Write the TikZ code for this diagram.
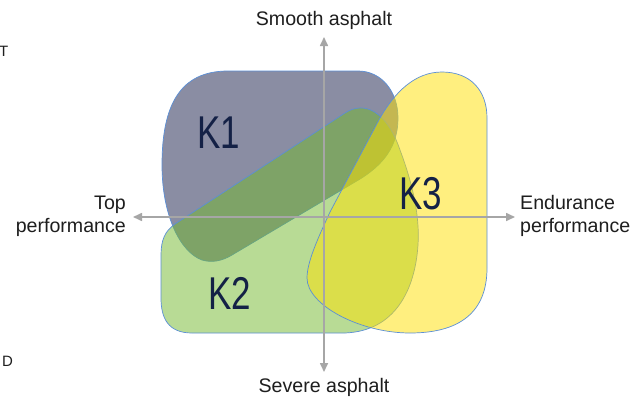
\documentclass[tikz,border=0pt]{standalone}
\usepackage{fontspec}
\setmainfont{Liberation Sans}
\newfontfamily\kfont[FakeStretch=0.76]{Liberation Sans}
\newfontfamily\axfont{Liberation Sans}
\usetikzlibrary{arrows.meta}
\definecolor{kgray}{RGB}{138,141,163}
\definecolor{kgreen}{RGB}{115,185,45}
\definecolor{kyellow}{RGB}{255,225,0}
\definecolor{kline}{RGB}{91,143,214}
\definecolor{axgray}{RGB}{166,166,166}
\definecolor{knavy}{RGB}{20,33,70}
\definecolor{axtext}{RGB}{30,30,30}
\tikzset{
  blob/.style={draw=kline, line width=0.7pt},
  axisline/.style={draw=axgray, line width=1.6pt, {Triangle[length=9pt,width=8pt]}-{Triangle[length=9pt,width=8pt]}},
  klabel/.style={text=knavy, font=\kfont\fontsize{46}{50}\selectfont, inner sep=0pt},
  axlabel/.style={text=axtext, font=\axfont\fontsize{19.6}{23}\selectfont, inner sep=0pt},
  edgelabel/.style={text=axtext, font=\axfont\fontsize{15}{17}\selectfont, inner sep=0pt}
}
\begin{document}
\begin{tikzpicture}[x=1pt,y=-1pt]
\useasboundingbox (0,0) rectangle (640,399);
\fill[white] (0,0) rectangle (640,399);
% K1
\path[blob, fill=kgray]
  (228,71) -- (358,71) .. controls (382,71) and (398,92) .. (398,118)
  .. controls (398,145) and (385,165) .. (355,182) -- (232,255)
  .. controls (222,261) and (212,263) .. (202,260)
  .. controls (180,252) and (162,215) .. (162,165)
  .. controls (162,105) and (180,71) .. (228,71) -- cycle;
% K2
\path[blob, fill=kgreen, fill opacity=0.5]
  (345,113) .. controls (365,100) and (387,112) .. (400,150)
  .. controls (412,182) and (420,215) .. (418,245)
  .. controls (415,290) and (395,331) .. (345,333) -- (192,333)
  .. controls (168,333) and (161,318) .. (161,298) -- (161,255)
  .. controls (161,240) and (165,231) .. (175,224) -- cycle;
% K3
\path[blob, fill=kyellow, fill opacity=0.5]
  (442,72) .. controls (470,72) and (487,90) .. (487,118) -- (487,268)
  .. controls (487,312) and (460,333) .. (410,333)
  .. controls (360,333) and (307,305) .. (307,278)
  .. controls (307,262) and (318,238) .. (330,212) -- (380,118)
  .. controls (395,92) and (415,72) .. (442,72) -- cycle;
% axes
\coordinate (vtop) at (324,37);
\coordinate (vbot) at (324,372);
\coordinate (hleft) at (133,217);
\coordinate (hright) at (515,217);
\draw[axisline] (vbot) -- (vtop);
\draw[axisline] (hleft) -- (hright);
% labels
\node[klabel] (k1) at (219,133) {K1};
\node[klabel] (k2) at (230,293) {K2};
\node[klabel] (k3) at (421,194) {K3};
\node[axlabel] (smooth) at (324,20) {Smooth asphalt};
\node[axlabel] (severe) at (324,387) {Severe asphalt};
\node[axlabel, anchor=east, align=right] (top) at (126,216) {Top\\performance};
\node[axlabel, anchor=west, align=left] (endu) at (520,216) {Endurance\\performance};
\node[edgelabel, anchor=base west] (tfrag) at (-1,56) {T};
\node[edgelabel, anchor=base west] (dfrag) at (2,366) {D};
\end{tikzpicture}
\end{document}
